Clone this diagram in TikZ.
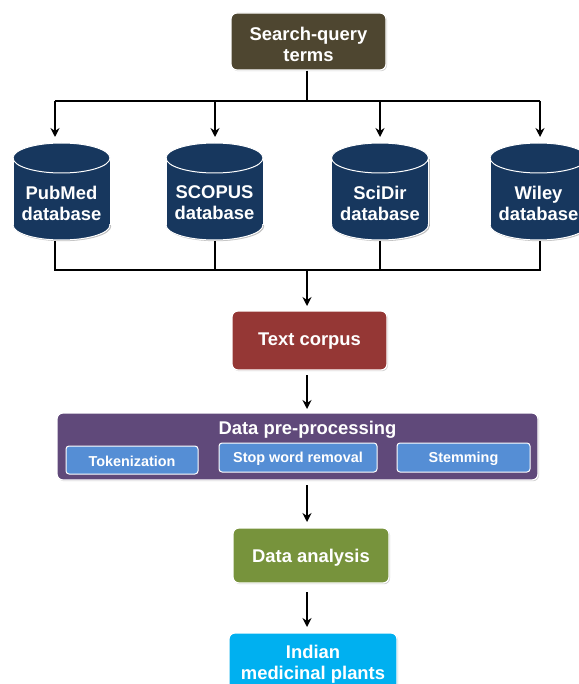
\documentclass[tikz,border=0pt]{standalone}
\usepackage{fontspec}
\setmainfont{Liberation Sans}
\usetikzlibrary{arrows.meta,shadows}
\definecolor{olivebox}{HTML}{4E4630}
\definecolor{redbox}{HTML}{953735}
\definecolor{purplebox}{HTML}{60497A}
\definecolor{subbox}{HTML}{558ED5}
\definecolor{greenbox}{HTML}{77933C}
\definecolor{cyanbox}{HTML}{00B0F0}
\definecolor{navydb}{HTML}{17375E}
\tikzset{
  flowbox/.style={rectangle, rounded corners=6pt, draw=white, line width=1.2pt,
    inner sep=0pt,
    drop shadow={shadow xshift=1pt, shadow yshift=-1.2pt, opacity=0.35}},
  subitem/.style={rectangle, rounded corners=3pt, draw=white, line width=1pt, fill=subbox,
    inner sep=0pt},
  subtxt/.style={text=white, font=\bfseries\fontsize{14.4}{17}\selectfont},
  conn/.style={line width=1.8pt, black},
  arr/.style={conn, -{Stealth[length=9pt,width=9pt]}},
  dtxt/.style={text=white, font=\bfseries\fontsize{18.4}{21}\selectfont, align=center}
}
% cylinder: center x, top y, bottom y (y grows downward)
\newcommand\dbcyl[3]{%
  \fill[black, opacity=0.25] (#1+1.2,#3-13.8) ellipse [x radius=48.5pt, y radius=15pt];
  \fill[black, opacity=0.25] (#1-47.3,#2+16.2) rectangle (#1+49.7,#3-13.8);
  \fill[navydb] (#1,#3-15) ellipse [x radius=48.5pt, y radius=15pt];
  \fill[navydb] (#1-48.5,#2+15) rectangle (#1+48.5,#3-15);
  \fill[navydb] (#1,#2+15) ellipse [x radius=48.5pt, y radius=15pt];
  \draw[white, line width=1pt] (#1,#2+15) ellipse [x radius=48.5pt, y radius=15pt];
  \draw[white, line width=1pt] (#1-48.5,#2+15) -- (#1-48.5,#3-15);
  \draw[white, line width=1pt] (#1+48.5,#2+15) -- (#1+48.5,#3-15);
  \begin{scope}
    \clip (#1-50,#3-15) rectangle (#1+50,#3+2);
    \draw[white, line width=1pt] (#1,#3-15) ellipse [x radius=48.5pt, y radius=15pt];
  \end{scope}}
\begin{document}
\begin{tikzpicture}[x=1pt,y=-1pt]
\useasboundingbox (0,0) rectangle (578,684);
\fill[white] (0,0) rectangle (578,684);
% top box
\node[flowbox, fill=olivebox, minimum width=155pt, minimum height=57pt] (sq) at (308.5,41.5) {};
\node[dtxt] (sqt) at (308.5,44.5) {Search-query\\terms};
% databases
\dbcyl{61.5}{143}{240}
\dbcyl{214.5}{143}{240}
\dbcyl{380}{143}{240}
\dbcyl{538.5}{143}{240}
\node[dtxt] (pmt) at (61.5,203) {PubMed\\database};
\node[dtxt] (sct) at (214.5,203) {SCOPUS\\database};
\node[dtxt] (sdt) at (380,203) {SciDir\\database};
\node[dtxt] (wlt) at (538.5,203) {Wiley\\database};
% junction coordinates
\coordinate (jt) at (307,101);
\coordinate (t1) at (55,101);
\coordinate (t4) at (540,101);
\coordinate (jb) at (307,270);
\coordinate (b1) at (55,270);
\coordinate (b4) at (540,270);
\draw[conn] (sq.south -| jt) -- (jt);
\draw[conn] (t1) -- (t4);
\draw[arr] (t1) -- (55,137);
\draw[arr] (215,101) -- (215,137);
\draw[arr] (380,101) -- (380,137);
\draw[arr] (t4) -- (540,137);
% bottom lines
\draw[conn] (55,241) -- (b1) -- (b4) -- (540,241);
\draw[conn] (215,241) -- (215,270);
\draw[conn] (380,241) -- (380,270);
% text corpus
\node[flowbox, fill=redbox, minimum width=155pt, minimum height=59pt] (tc) at (309.5,340.5) {};
\node[dtxt] (tct) at (309.5,341.5) {Text corpus};
\draw[arr] (jb) -- (307,306);
\draw[arr] (307,375) -- (307,409);
% pre-processing
\node[flowbox, fill=purplebox, minimum width=481pt, minimum height=67pt] (dp) at (297.5,446.5) {};
\node[dtxt] (dpt) at (307.5,429.5) {Data pre-processing};
\node[subitem, minimum width=132pt, minimum height=28pt] (tok) at (132,460) {};
\node[subitem, minimum width=158pt, minimum height=29pt] (stw) at (298,457.5) {};
\node[subitem, minimum width=133pt, minimum height=29pt] (stm) at (463.5,457.5) {};
\node[subtxt] (tokt) at (132,461) {Tokenization};
\node[subtxt] (stwt) at (298,458.5) {Stop word removal};
\node[subtxt] (stmt) at (463.5,458.5) {Stemming};
\draw[arr] (307,485) -- (307,522);
% data analysis
\node[flowbox, fill=greenbox, minimum width=156pt, minimum height=55pt] (da) at (311,555.5) {};
\node[dtxt] (dat) at (311,558) {Data analysis};
\draw[arr] (307,592) -- (307,627);
% final
\node[flowbox, fill=cyanbox, minimum width=168pt, minimum height=70pt] (imp) at (313,668) {};
\node[dtxt] (impt) at (313,664) {Indian\\medicinal plants};
\end{tikzpicture}
\end{document}
